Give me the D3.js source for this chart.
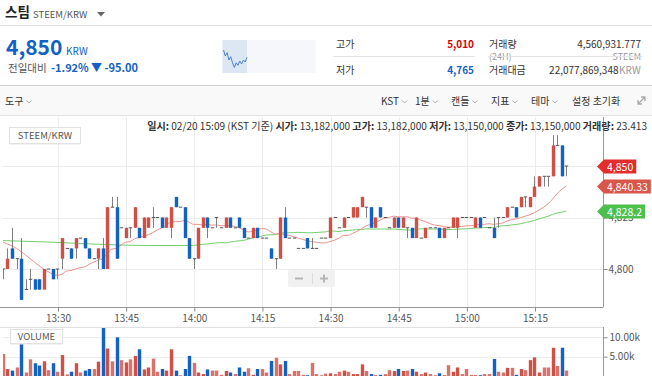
<!DOCTYPE html>
<meta charset="utf-8">
<style>* {padding:0; margin:0; border: 0; outline: 0;} body{background:#fff;} svg{display:block;} text{font-family:"Noto Sans CJK KR","Noto Sans",sans-serif;}</style>
<body>
<script src="https://d3js.org/d3.v7.min.js"></script>
<script>
// 1 minute candles, STEEM/KRW, from 13:17
firstMinute = "13:17"
opens = [4800,4800,4810,4805,4805,4790,4795,4795,4795,4790,
  4800,4800,4800,4805,4810,4810,4810,4815,4815,4810,
  4805,4805,4810,4800,4830,4830,4820,4815,4820,4820,
  4820,4815,4820,4825,4825,4825,4820,4820,4835,4830,
  4830,4815,4805,4805,4820,4825,4820,4825,4820,4820,
  4825,4820,4825,4820,4815,4815,4820,4815,4815,4810,
  4805,4805,4825,4815,4815,4810,4810,4815,4810,4810,
  4815,4815,4815,4825,4820,4820,4825,4825,4825,4830,
  4830,4830,4820,4830,4825,4820,4820,4825,4820,4820,
  4820,4815,4815,4815,4820,4820,4820,4815,4820,4820,
  4820,4825,4825,4825,4820,4825,4825,4820,4820,4825,
  4825,4825,4830,4830,4830,4835,4830,4835,4840,4845,
  4845,4845,4860,4860,4850]
highs = [4800,4810,4820,4805,4815,4795,4800,4795,4795,4800,
  4800,4800,4800,4815,4810,4810,4815,4815,4815,4810,
  4805,4810,4815,4830,4835,4835,4820,4820,4820,4830,
  4820,4825,4825,4830,4825,4825,4825,4830,4835,4830,
  4830,4815,4805,4820,4825,4825,4820,4825,4820,4825,
  4825,4820,4825,4820,4815,4820,4820,4815,4815,4810,
  4805,4825,4830,4815,4815,4810,4810,4815,4815,4810,
  4815,4815,4825,4825,4820,4825,4825,4830,4830,4835,
  4830,4830,4825,4830,4825,4820,4825,4825,4825,4820,
  4820,4825,4815,4820,4820,4820,4820,4820,4820,4825,
  4825,4825,4825,4825,4825,4825,4825,4820,4825,4825,
  4825,4830,4830,4830,4835,4835,4835,4845,4845,4845,
  4845,4865,4865,4860,4850]
lows = [4795,4800,4805,4800,4785,4790,4790,4790,4790,4790,
  4800,4795,4795,4800,4810,4805,4805,4815,4810,4805,
  4805,4800,4800,4800,4830,4805,4820,4815,4815,4820,
  4815,4815,4820,4820,4825,4820,4820,4815,4830,4830,
  4815,4805,4800,4805,4820,4815,4820,4820,4820,4820,
  4820,4820,4820,4815,4815,4815,4815,4815,4815,4805,
  4800,4805,4815,4815,4815,4810,4810,4810,4810,4810,
  4815,4815,4815,4825,4820,4820,4825,4825,4825,4830,
  4825,4820,4820,4825,4825,4820,4820,4820,4820,4815,
  4815,4815,4815,4815,4820,4820,4815,4815,4820,4820,
  4815,4825,4825,4825,4820,4820,4825,4820,4815,4820,
  4825,4825,4830,4825,4830,4830,4830,4835,4840,4840,
  4840,4845,4860,4845,4845]
closes = [4800,4805,4805,4805,4785,4790,4795,4790,4790,4800,
  4800,4795,4800,4815,4810,4805,4815,4815,4810,4805,
  4805,4810,4800,4830,4830,4805,4820,4820,4820,4830,
  4815,4825,4825,4825,4825,4820,4825,4830,4830,4830,
  4815,4805,4805,4820,4825,4820,4820,4825,4820,4825,
  4820,4820,4820,4815,4815,4820,4815,4815,4815,4805,
  4805,4825,4815,4815,4815,4810,4810,4810,4810,4810,
  4815,4815,4825,4825,4820,4825,4825,4830,4830,4835,
  4830,4820,4825,4825,4825,4820,4825,4820,4825,4820,
  4815,4825,4815,4820,4820,4820,4815,4820,4820,4825,
  4825,4825,4825,4825,4825,4820,4825,4820,4815,4825,
  4825,4830,4830,4825,4835,4835,4835,4840,4845,4845,
  4845,4860,4860,4845,4850]
volumes = [5700,1800,1400,2200,10400,900,4300,3300,2700,3800,
  1500,3300,1100,5400,400,1100,3300,900,1400,1800,
  1800,3700,12500,7100,3800,10000,4100,3500,4300,5200,
  6900,1700,2200,4500,1100,1800,1400,6900,1400,200,
  1800,5200,3400,900,500,1700,1400,1400,300,1300,
  900,500,2200,1100,2000,300,1800,1800,900,3900,
  4700,3000,3900,500,1300,1300,300,200,3400,500,
  200,600,700,500,1100,1400,1100,500,500,3000,
  1300,500,200,300,500,1500,1300,1800,1300,1400,
  1800,1100,500,900,500,200,700,200,2800,1100,
  2200,500,1800,300,200,200,500,500,4400,1100,
  900,2100,2100,300,1800,1500,4100,4800,900,2200,
  2200,7300,2600,7300,1400]

// moving averages before enough candles are on screen
ma15EarlyTimes = ["13:17","13:20","13:23","13:26","13:29","13:30"]
ma15EarlyVals = [4813, 4810, 4805, 4800, 4797, 4797.5]
ma50EarlyTimes = ["13:17","13:28","13:38","13:49","13:58","14:02","14:05"]
ma50EarlyVals = [4813.8, 4813, 4812, 4811.4, 4811.4, 4812.2, 4812.8]

priceTicks = [4800, 4825, 4850]
volumeTicks = [5000, 10000]

// small day chart in the header
sparkPrices = [4928,4879,4906,4846,4873,4824,4786,4824,4803,4838,4814,4846,4830,4868]

red = "#d24f45"
blue = "#1261c4"

W = 652; H = 376
parse = d3.timeParse("%H:%M")

data = opens.map(function(o, i){
  return {t: d3.timeMinute.offset(parse(firstMinute), i), o: o, h: highs[i], l: lows[i], c: closes[i], v: volumes[i]}
})

svg = d3.select('body').append('svg').attr('width', W).attr('height', H)
svg.append('rect').attr('width', W).attr('height', H).attr('fill', '#fff')

// ---------- header ----------
svg.append('text').attr('x', 5).attr('y', 17).attr('font-size', 13.5).attr('font-weight', 'bold').attr('fill', '#222').text('스팀')
svg.append('text').attr('x', 33).attr('y', 18).attr('font-size', 9.5).attr('fill', '#555').text('STEEM/KRW')
svg.append('path').attr('d', 'M97,12L105,12L101,16.5Z').attr('fill', '#666')
svg.append('line').attr('x1', 0).attr('x2', W).attr('y1', 25.5).attr('y2', 25.5).attr('stroke', '#dcdcdc')

svg.append('text').attr('x', 6).attr('y', 55).attr('font-size', 21).attr('font-weight', 'bold').attr('fill', blue).text('4,850')
svg.append('text').attr('x', 66).attr('y', 55).attr('font-size', 10).attr('fill', blue).text('KRW')
svg.append('text').attr('x', 8).attr('y', 72).attr('font-size', 10.5).attr('fill', '#555').text('전일대비')
svg.append('text').attr('x', 51).attr('y', 72).attr('font-size', 11).attr('font-weight', 'bold').attr('fill', blue).text('-1.92%')
svg.append('text').attr('x', 91).attr('y', 72).attr('font-size', 11).attr('font-weight', 'bold').attr('fill', blue).text('▼ -95.00')

// mini chart
svg.append('rect').attr('x', 222.5).attr('y', 40).attr('width', 93).attr('height', 33).attr('fill', '#f5f7fa')
svg.append('rect').attr('x', 222.5).attr('y', 40).attr('width', 24.5).attr('height', 33).attr('fill', '#dde6f3')
sx = d3.scaleLinear().domain([0, sparkPrices.length - 1]).range([223.5, 247])
sy = d3.scaleLinear().domain([4740, 5010]).range([73, 40])
svg.append('path').datum(sparkPrices)
  .attr('d', d3.line().x(function(d, i){return sx(i)}).y(function(d){return sy(d)}))
  .attr('fill', 'none').attr('stroke', '#4a7fd0').attr('stroke-width', 1)

// stats
function stat(x, y, txt, anchor, color, size){
  return svg.append('text').attr('x', x).attr('y', y).attr('font-size', size || 10)
    .attr('text-anchor', anchor || 'start').attr('fill', color || '#333').text(txt)
}
stat(336, 48, '고가')
stat(474, 48, '5,010', 'end', '#d60000').attr('font-weight', 'bold')
stat(336, 74, '저가')
stat(474, 74, '4,765', 'end', '#1261c4').attr('font-weight', 'bold')
svg.append('line').attr('x1', 333).attr('x2', 475).attr('y1', 56.5).attr('y2', 56.5).attr('stroke', '#e3e3e3')
stat(489, 48, '거래량')
stat(489, 60, '(24H)', 'start', '#999', 9)
stat(641, 48, '4,560,931.777', 'end', '#333')
stat(641, 60, 'STEEM', 'end', '#999', 9)
svg.append('line').attr('x1', 488).attr('x2', 642).attr('y1', 56.5).attr('y2', 56.5).attr('stroke', '#e3e3e3')
stat(489, 74, '거래대금')
stat(618.5, 74, '22,077,869,348', 'end', '#333')
stat(619, 74, 'KRW', 'start', '#999')

// ---------- toolbar ----------
svg.append('rect').attr('x', 0).attr('y', 86).attr('width', W).attr('height', 30).attr('fill', '#f9f9f9')
svg.append('line').attr('x1', 0).attr('x2', W).attr('y1', 85.5).attr('y2', 85.5).attr('stroke', '#d0d0d0')
svg.append('line').attr('x1', 0).attr('x2', W).attr('y1', 115.5).attr('y2', 115.5).attr('stroke', '#e2e2e2')
tools = [['도구', 5, true], ['KST', 381, true], ['1분', 415, true], ['캔들', 451, true], ['지표', 491, true], ['테마', 531, true], ['설정 초기화', 572, false]]
tools.forEach(function(t){
  var tx = svg.append('text').attr('x', t[1]).attr('y', 104.5).attr('font-size', 10).attr('fill', '#333').text(t[0])
  if (t[2]) {
    var w = tx.node().getComputedTextLength()
    svg.append('path').attr('d', 'M' + (t[1] + w + 3) + ',100.5l2.5,2.5l2.5,-2.5')
      .attr('fill', 'none').attr('stroke', '#999').attr('stroke-width', 0.8)
  }
})
svg.append('path').attr('d', 'M638,104L645,97M641,97h4v4M638,100v4h4').attr('fill', 'none').attr('stroke', '#aaa').attr('stroke-width', 1.3)

// ---------- price panel ----------
plotL = 3; plotR = 603; plotT = 117; plotB = 307
volT = 327; volB = 376

x = d3.scaleTime().domain([parse("13:30"), parse("15:15")]).range([58, 535])
y = d3.scaleLinear().domain([4800, 4850]).range([269, 166])
yv = d3.scaleLinear().domain([0, 10000]).range([376, 337.3])
off = (x(parse("13:31")) - x(parse("13:30"))) * 0.88
bw = 3.4
function cx(d){ return x(d.t) + off }

timeTicks = d3.timeMinute.every(15).range(parse("13:30"), parse("15:16"))

// grid
svg.append('g').selectAll('line').data(timeTicks).enter().append('line')
  .attr('x1', function(d){return Math.round(x(d)) + 0.5}).attr('x2', function(d){return Math.round(x(d)) + 0.5})
  .attr('y1', plotT).attr('y2', plotB).attr('stroke', '#ececec')
svg.append('g').selectAll('line').data(priceTicks).enter().append('line')
  .attr('x1', plotL).attr('x2', plotR).attr('y1', function(d){return Math.round(y(d)) + 0.5}).attr('y2', function(d){return Math.round(y(d)) + 0.5})
  .attr('stroke', '#ececec')

svg.append('defs').append('clipPath').attr('id', 'pc').append('rect')
  .attr('x', plotL).attr('y', plotT).attr('width', plotR - plotL).attr('height', plotB - plotT)
svg.select('defs').append('clipPath').attr('id', 'vc').append('rect')
  .attr('x', plotL).attr('y', volT + 1).attr('width', plotR - plotL).attr('height', volB - volT)

// moving averages
function movingAvg(n){
  var out = []
  for (var i = n - 1; i < data.length; i++) {
    out.push({t: data[i].t, v: d3.mean(closes.slice(i - n + 1, i + 1))})
  }
  return out
}
ma15 = ma15EarlyTimes.map(function(t, i){return {t: parse(t), v: ma15EarlyVals[i]}}).concat(movingAvg(15))
ma50 = ma50EarlyTimes.map(function(t, i){return {t: parse(t), v: ma50EarlyVals[i]}}).concat(movingAvg(50))
maLine = d3.line().x(function(d){return x(d.t) + off}).y(function(d){return y(d.v)}).curve(d3.curveMonotoneX)

pg = svg.append('g').attr('clip-path', 'url(#pc)')
pg.append('path').datum(ma50).attr('d', maLine).attr('fill', 'none').attr('stroke', '#72cf6c').attr('stroke-width', 1)
pg.append('path').datum(ma15).attr('d', maLine).attr('fill', 'none').attr('stroke', '#ee9189').attr('stroke-width', 1)

// candles
cg = pg.selectAll('g.c').data(data).enter().append('g')
cg.filter(function(d){return d.h != d.l}).append('line')
  .attr('x1', function(d){return Math.round(cx(d)) + 0.5}).attr('x2', function(d){return Math.round(cx(d)) + 0.5})
  .attr('y1', function(d){return y(d.h)}).attr('y2', function(d){return y(d.l)})
  .attr('stroke', '#808080').attr('stroke-width', 1)
cg.filter(function(d){return d.o != d.c}).append('rect')
  .attr('x', function(d){return Math.round(cx(d)) + 0.5 - bw / 2}).attr('width', bw)
  .attr('y', function(d){return y(Math.max(d.o, d.c))})
  .attr('height', function(d){return Math.abs(y(d.o) - y(d.c))})
  .attr('fill', function(d){return d.c > d.o ? red : blue})
cg.filter(function(d){return d.o == d.c}).append('line')
  .attr('x1', function(d){return Math.round(cx(d)) + 0.5 - bw / 2}).attr('x2', function(d){return Math.round(cx(d)) + 0.5 + bw / 2})
  .attr('y1', function(d){return y(d.o)}).attr('y2', function(d){return y(d.o)})
  .attr('stroke', '#555').attr('stroke-width', 1)

// axes
svg.append('line').attr('x1', plotR + 0.5).attr('x2', plotR + 0.5).attr('y1', plotT).attr('y2', plotB).attr('stroke', '#999')
svg.append('line').attr('x1', 0).attr('x2', plotR + 0.5).attr('y1', plotB + 0.5).attr('y2', plotB + 0.5).attr('stroke', '#999')
xa = svg.append('g').attr('transform', 'translate(0,' + (plotB + 0.5) + ')')
  .call(d3.axisBottom(x).tickValues(timeTicks).tickFormat(d3.timeFormat('%H:%M')).tickSize(4).tickPadding(3))
xa.select('.domain').remove()
xa.selectAll('line').attr('stroke', '#888')
xa.selectAll('text').attr('font-size', 10).attr('fill', '#555').attr('font-family', '"Noto Sans CJK KR","Noto Sans",sans-serif')

ya = svg.append('g').attr('transform', 'translate(' + (plotR + 0.5) + ',0)')
  .call(d3.axisRight(y).tickValues(priceTicks).tickFormat(d3.format(',')).tickSize(4).tickPadding(1))
ya.select('.domain').remove()
ya.selectAll('line').attr('stroke', '#888')
ya.selectAll('text').attr('font-size', 10).attr('fill', '#555').attr('font-family', '"Noto Sans CJK KR","Noto Sans",sans-serif')

// info line
info = svg.append('text').attr('x', 647).attr('y', 130).attr('text-anchor', 'end').attr('font-size', 10.1).attr('fill', '#333')
infoParts = [['일시:', ' 02/20 15:09 (KST 기준) '], ['시가:', ' 13,182,000 '], ['고가:', ' 13,182,000 '], ['저가:', ' 13,150,000 '], ['종가:', ' 13,150,000 '], ['거래량:', ' 23.413']]
infoParts.forEach(function(p){
  info.append('tspan').attr('font-weight', 'bold').text(p[0])
  info.append('tspan').attr('xml:space', 'preserve').text(p[1])
})

// label boxes
function labelBox(x0, y0, w, h, txt){
  svg.append('rect').attr('x', x0 + 0.5).attr('y', y0 + 1.5).attr('width', w).attr('height', h).attr('fill', '#e6e6e6')
  svg.append('rect').attr('x', x0 + 0.5).attr('y', y0 + 0.5).attr('width', w).attr('height', h).attr('fill', '#fff').attr('stroke', '#e2e2e2')
  svg.append('text').attr('x', x0 + w / 2 + 0.5).attr('y', y0 + h / 2 + 4).attr('text-anchor', 'middle').attr('font-size', 9.5).attr('fill', '#555').text(txt)
}
labelBox(9, 127, 71, 16, 'STEEM/KRW')

// zoom control
svg.append('rect').attr('x', 288).attr('y', 270).attr('width', 47).attr('height', 17).attr('rx', 2).attr('fill', '#f0f0f0').attr('opacity', 0.95)
svg.append('path').attr('d', 'M295,278.5h8M320,278.5h8M324,274.5v8').attr('stroke', '#b5b5b5').attr('stroke-width', 2)
svg.append('line').attr('x1', 312.5).attr('x2', 312.5).attr('y1', 273).attr('y2', 284).attr('stroke', '#dcdcdc')

// ---------- volume panel ----------
svg.append('line').attr('x1', 0).attr('x2', plotR + 0.5).attr('y1', volT + 0.5).attr('y2', volT + 0.5).attr('stroke', '#e0e0e0')
svg.append('line').attr('x1', plotR + 0.5).attr('x2', plotR + 0.5).attr('y1', volT).attr('y2', volB).attr('stroke', '#999')
svg.append('g').selectAll('line').data(volumeTicks).enter().append('line')
  .attr('x1', plotL).attr('x2', plotR).attr('y1', function(d){return Math.round(yv(d)) + 0.5}).attr('y2', function(d){return Math.round(yv(d)) + 0.5})
  .attr('stroke', '#ededed')
vg = svg.append('g').attr('clip-path', 'url(#vc)')
vg.selectAll('rect').data(data).enter().append('rect')
  .attr('x', function(d){return Math.round(cx(d)) + 0.5 - bw / 2}).attr('width', bw)
  .attr('y', function(d){return yv(d.v)}).attr('height', function(d){return yv(0) - yv(d.v)})
  .attr('fill', function(d){return d.c < d.o ? blue : red})
  .attr('opacity', function(d){return d.c == d.o ? 0.8 : 1})
va = svg.append('g').attr('transform', 'translate(' + (plotR + 0.5) + ',0)')
  .call(d3.axisRight(yv).tickValues(volumeTicks).tickFormat(function(d){return (d / 1000).toFixed(2) + 'k'}).tickSize(4).tickPadding(2))
va.select('.domain').remove()
va.selectAll('line').attr('stroke', '#888')
va.selectAll('text').attr('font-size', 10).attr('fill', '#555').attr('font-family', '"Noto Sans CJK KR","Noto Sans",sans-serif')
labelBox(10, 329, 52, 14, 'VOLUME')

// ---------- price tags ----------
last = data[data.length - 1]
fmt = d3.format(',.2~f')
tags = [
  {v: last.c, txt: d3.format(',')(last.c), fill: '#e22d2d'},
  {v: ma15[ma15.length - 1].v, txt: fmt(ma15[ma15.length - 1].v), fill: '#d9564b'},
  {v: ma50[ma50.length - 1].v, txt: fmt(ma50[ma50.length - 1].v), fill: '#4cbf4c'}
]
tags.forEach(function(t){
  var cy = Math.round(y(t.v)) + 0.5
  var tx = svg.append('text').attr('x', 607).attr('y', cy + 4).attr('font-size', 10.5).attr('fill', '#fff').text(t.txt)
  var w = tx.node().getComputedTextLength()
  svg.insert('path', function(){return tx.node()})
    .attr('d', 'M597,' + cy + 'L604,' + (cy - 7) + 'H' + (610 + w) + 'V' + (cy + 7) + 'H604Z')
    .attr('fill', t.fill)
})
</script>
